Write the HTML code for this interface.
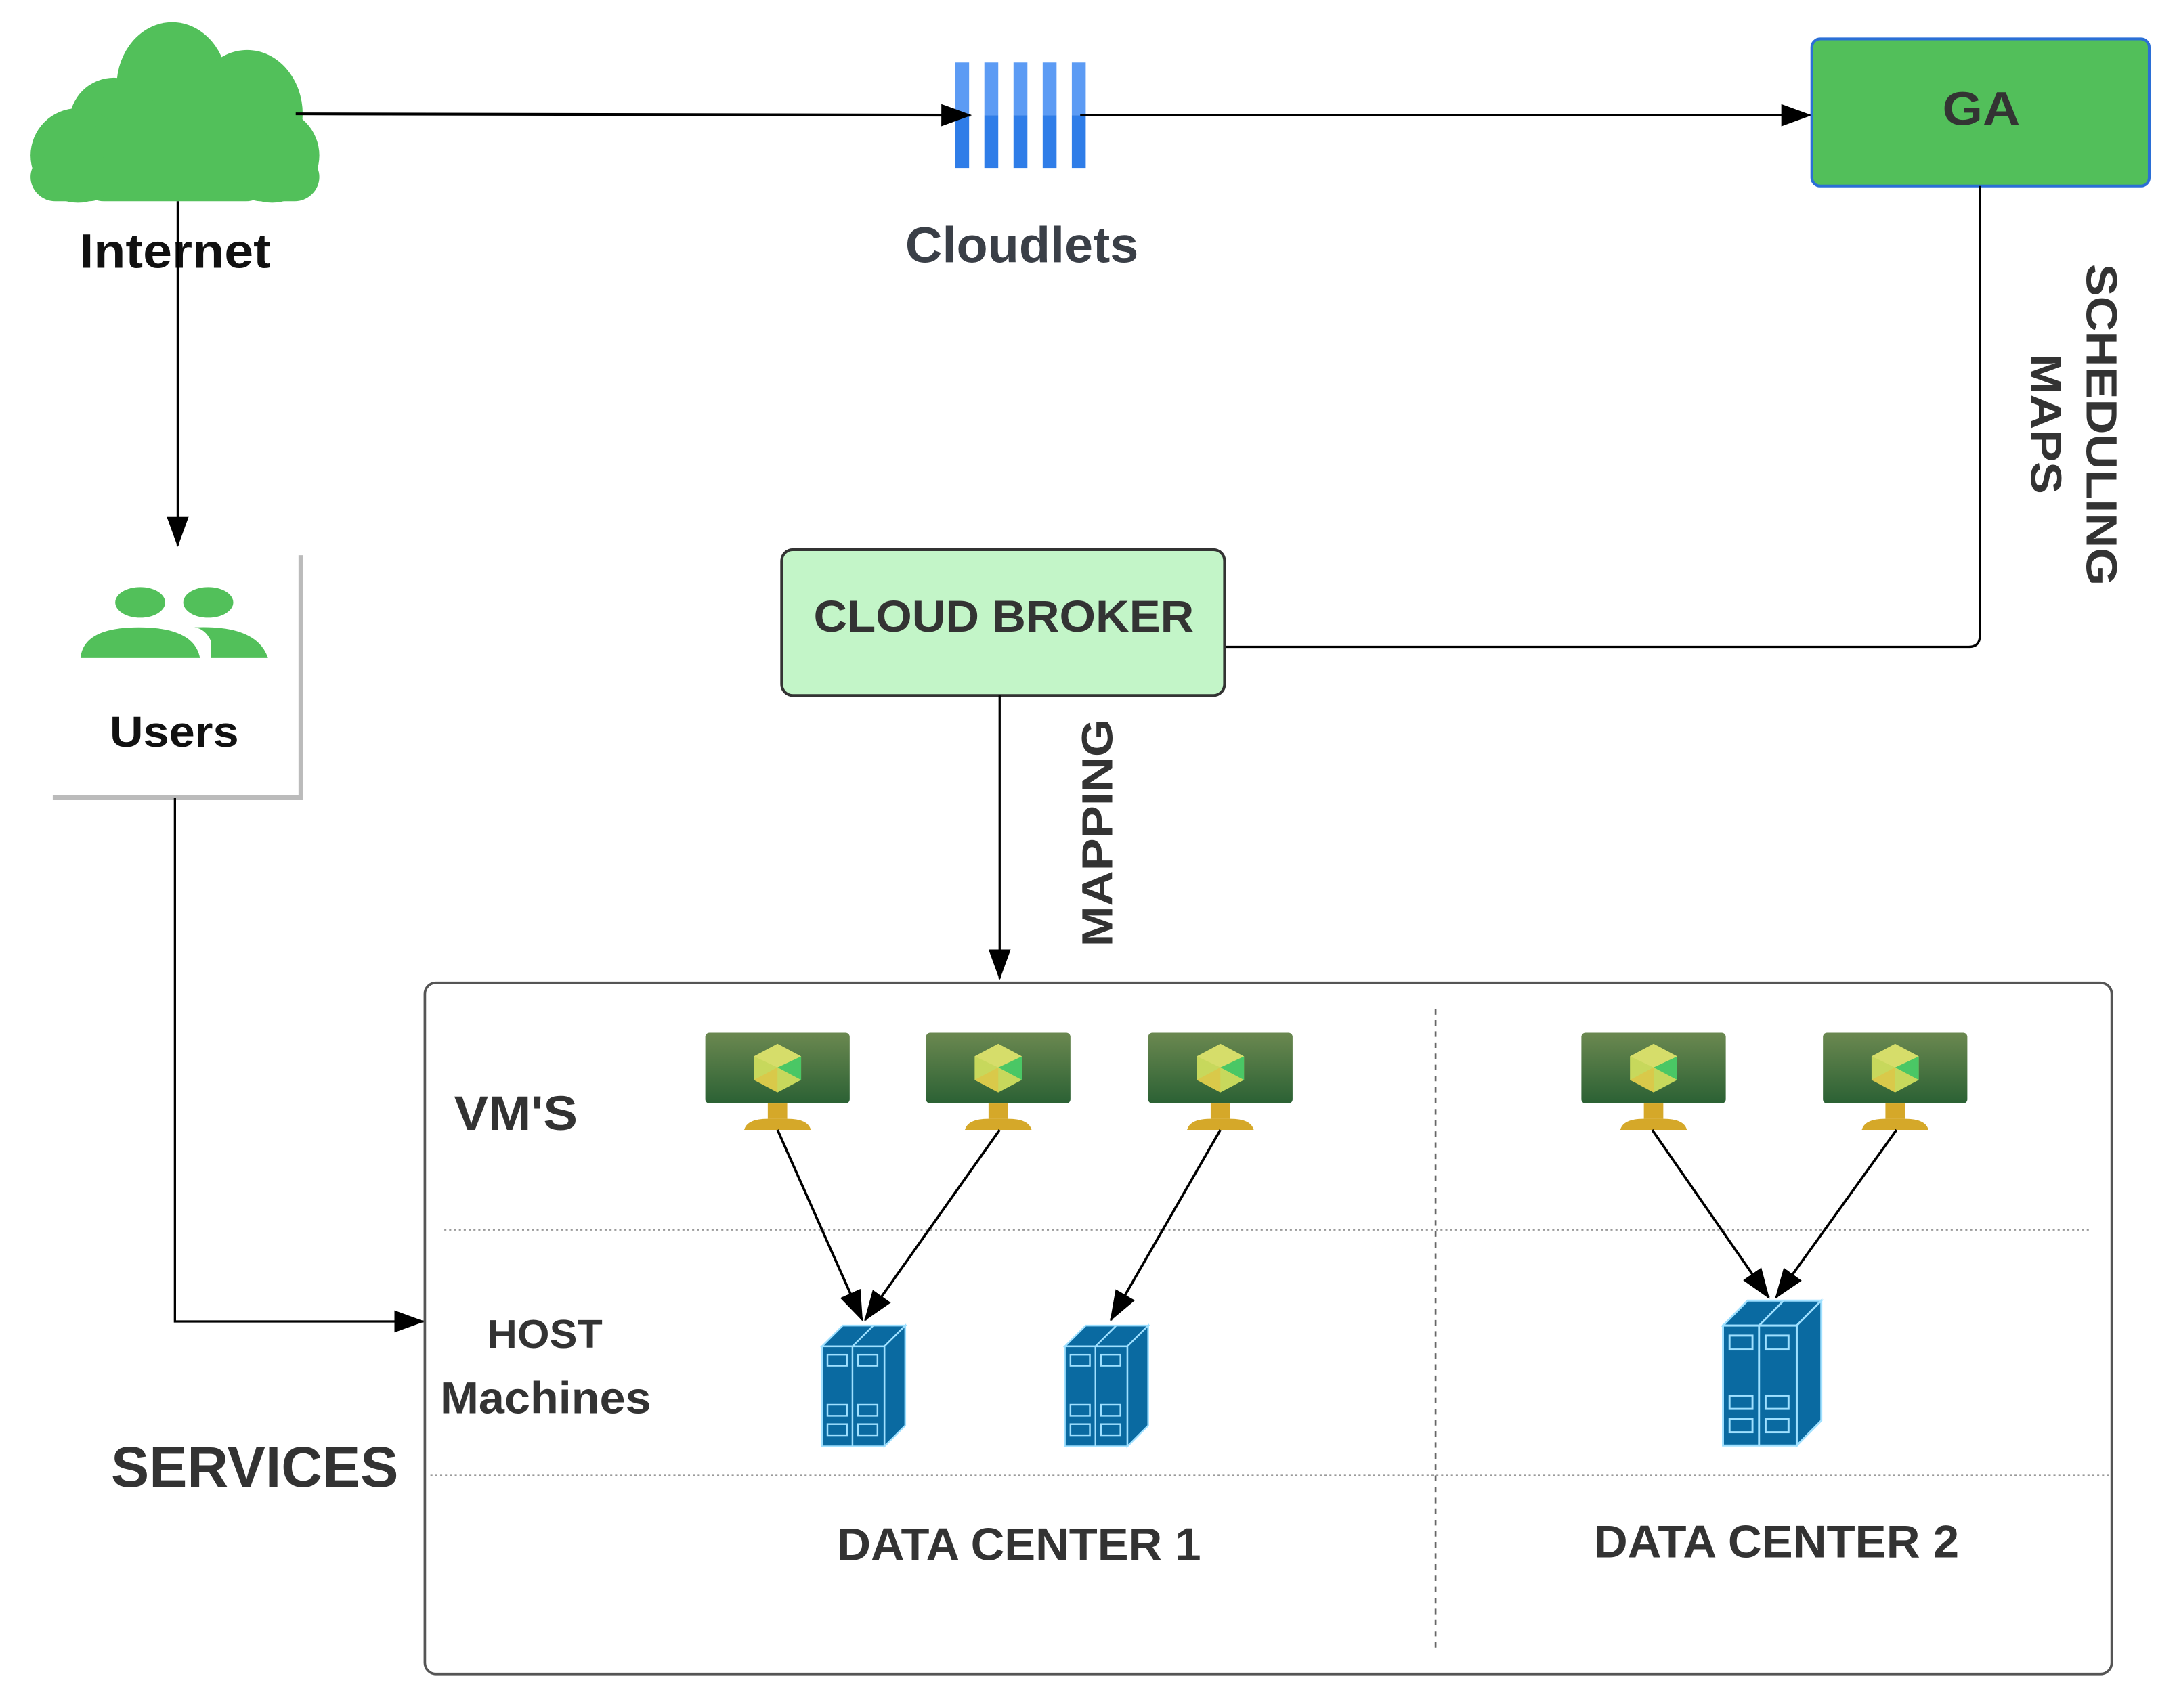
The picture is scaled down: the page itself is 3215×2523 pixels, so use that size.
<!DOCTYPE html>
<html><head><meta charset="utf-8"><style>
html,body{margin:0;padding:0;background:#fff;}
svg{display:block;}
text{font-family:"Liberation Sans",Arial,sans-serif;font-weight:bold;}
</style></head><body>
<svg width="3215" height="2523" viewBox="0 0 1568 1230.5" preserveAspectRatio="none" xmlns="http://www.w3.org/2000/svg">
<defs>
<marker id="ah2" markerWidth="22" markerHeight="16" refX="21" refY="8" orient="auto" markerUnits="userSpaceOnUse">
<path d="M0,0 L22,8 L0,16 Z" fill="#000"/></marker>
<linearGradient id="scr" x1="0" y1="0" x2="0" y2="1"><stop offset="0" stop-color="#6b8850"/><stop offset="1" stop-color="#2b6134"/></linearGradient>
<g id="vm">
<rect x="0" y="0" width="104" height="51" rx="3" fill="url(#scr)"/>
<polygon points="52,8 69,17 69,34 52,43 35,34 35,17" fill="#c7d85c"/>
<polygon points="52,25 69,17 69,34" fill="#4ac765"/>
<polygon points="52,25 52,43 35,34" fill="#d9c94a"/>
<polygon points="52,8 69,17 52,25 35,17" fill="#d6dd6a"/>
<rect x="45" y="51" width="14" height="11" fill="#d5a829"/>
<path d="M28,70 Q30,62 45,62 L59,62 Q74,62 76,70 Z" fill="#d5a829"/>
</g>
<g id="srv" stroke="#9fe0ff" stroke-width="1.2" fill="#0a6aa1">
<polygon points="0,15 15,0 60,0 45,15"/>
<polygon points="45,15 60,0 60,72 45,87"/>
<rect x="0" y="15" width="45" height="72"/>
<line x1="22" y1="15" x2="22" y2="87"/><line x1="22" y1="15" x2="37" y2="0"/>
<rect x="4" y="21" width="14" height="8" fill="none"/><rect x="26" y="21" width="14" height="8" fill="none"/>
<rect x="4" y="57" width="14" height="8" fill="none"/><rect x="26" y="57" width="14" height="8" fill="none"/>
<rect x="4" y="71" width="14" height="8" fill="none"/><rect x="26" y="71" width="14" height="8" fill="none"/>
</g>
</defs>

<!-- cloud -->
<g fill="#52c05a">
<ellipse cx="124" cy="62" rx="40" ry="46"/><ellipse cx="178" cy="82" rx="40" ry="46"/><circle cx="82" cy="88" r="32"/><circle cx="56" cy="112" r="34"/><circle cx="196" cy="112" r="34"/>
<rect x="55" y="90" width="142" height="55" rx="20"/>
<rect x="22" y="110" width="60" height="35" rx="18"/><rect x="170" y="110" width="60" height="35" rx="18"/>
</g>
<text x="57" y="193" font-size="35" fill="#111" textLength="138" lengthAdjust="spacingAndGlyphs">Internet</text>

<!-- cloudlets -->
<g>
<rect x="688" y="45" width="10" height="38" fill="#5c9bf4"/><rect x="688" y="83" width="10" height="38" fill="#2f7de8"/>
<rect x="709" y="45" width="10" height="38" fill="#5c9bf4"/><rect x="709" y="83" width="10" height="38" fill="#2f7de8"/>
<rect x="730" y="45" width="10" height="38" fill="#5c9bf4"/><rect x="730" y="83" width="10" height="38" fill="#2f7de8"/>
<rect x="751" y="45" width="10" height="38" fill="#5c9bf4"/><rect x="751" y="83" width="10" height="38" fill="#2f7de8"/>
<rect x="772" y="45" width="10" height="38" fill="#5c9bf4"/><rect x="772" y="83" width="10" height="38" fill="#2f7de8"/>
</g>
<text x="652" y="189" font-size="36" fill="#3a3f47" textLength="168" lengthAdjust="spacingAndGlyphs">Cloudlets</text>

<line x1="213" y1="82" x2="699" y2="83" stroke="#000" stroke-width="2" marker-end="url(#ah2)"/>
<line x1="778" y1="83" x2="1304" y2="83" stroke="#000" stroke-width="1.6" marker-end="url(#ah2)"/>

<!-- GA -->
<rect x="1305" y="28" width="243" height="106" rx="6" fill="#52bf5a" stroke="#2b6fd6" stroke-width="2"/>
<text x="1399" y="90" font-size="34" fill="#333" textLength="56" lengthAdjust="spacingAndGlyphs">GA</text>
<path d="M1426,134 L1426,458 Q1426,466 1418,466 L882,466" fill="none" stroke="#000" stroke-width="1.6"/>
<text transform="translate(1503,190) rotate(90)" font-size="31" fill="#333" textLength="232" lengthAdjust="spacingAndGlyphs">SCHEDULING</text>
<text transform="translate(1463,255) rotate(90)" font-size="31" fill="#333" textLength="101" lengthAdjust="spacingAndGlyphs">MAPS</text>

<line x1="128" y1="145" x2="128" y2="393" stroke="#000" stroke-width="1.6" marker-end="url(#ah2)"/>

<!-- users -->
<rect x="38" y="400" width="180" height="176" fill="#bbb"/>
<rect x="35" y="397" width="180" height="176" fill="#fff"/>
<g fill="#52c05a">
<ellipse cx="101" cy="434" rx="18" ry="11"/><ellipse cx="150" cy="434" rx="18" ry="11"/>
<path d="M58,474 Q60,452 100,452 Q140,452 144,474 Z"/>
<path d="M152,474 L152,462 Q148,453 140,452 Q185,450 193,474 Z"/>
</g>
<text x="79" y="538" font-size="31" fill="#111" textLength="93" lengthAdjust="spacingAndGlyphs">Users</text>
<path d="M126,575 L126,952 L305,952" fill="none" stroke="#000" stroke-width="1.6" marker-end="url(#ah2)"/>

<!-- cloud broker -->
<rect x="563" y="396" width="319" height="105" rx="8" fill="#c3f5c8" stroke="#333" stroke-width="2"/>
<text x="586" y="455" font-size="32" fill="#333" textLength="274" lengthAdjust="spacingAndGlyphs">CLOUD BROKER</text>
<line x1="720" y1="501" x2="720" y2="705" stroke="#000" stroke-width="1.6" marker-end="url(#ah2)"/>
<text transform="translate(801,682) rotate(-90)" font-size="31" fill="#333" textLength="164" lengthAdjust="spacingAndGlyphs">MAPPING</text>

<!-- services -->
<rect x="306" y="708" width="1215" height="498" rx="8" fill="none" stroke="#555" stroke-width="1.8"/>
<line x1="1034" y1="727" x2="1034" y2="1190" stroke="#666" stroke-width="1.3" stroke-dasharray="4,4"/>
<line x1="320" y1="886" x2="1505" y2="886" stroke="#999" stroke-width="1.2" stroke-dasharray="1.5,2"/>
<line x1="310" y1="1063" x2="1520" y2="1063" stroke="#999" stroke-width="1.2" stroke-dasharray="1.5,2"/>
<text x="327" y="814" font-size="35" fill="#333" textLength="89" lengthAdjust="spacingAndGlyphs">VM'S</text>
<text x="351" y="971" font-size="29" fill="#333" textLength="83" lengthAdjust="spacingAndGlyphs">HOST</text>
<text x="317" y="1018" font-size="32" fill="#333" textLength="152" lengthAdjust="spacingAndGlyphs">Machines</text>
<text x="80" y="1071" font-size="41" fill="#333" textLength="207" lengthAdjust="spacingAndGlyphs">SERVICES</text>
<text x="603" y="1124" font-size="33" fill="#333" textLength="262" lengthAdjust="spacingAndGlyphs">DATA CENTER 1</text>
<text x="1148" y="1122" font-size="33" fill="#333" textLength="263" lengthAdjust="spacingAndGlyphs">DATA CENTER 2</text>

<use href="#vm" x="508" y="744"/><use href="#vm" x="667" y="744"/><use href="#vm" x="827" y="744"/>
<use href="#vm" x="1139" y="744"/><use href="#vm" x="1313" y="744"/>
<use href="#srv" x="592" y="955"/><use href="#srv" x="767" y="955"/>
<use href="#srv" transform="translate(1241,937) scale(1.18,1.2)"/>

<g stroke="#000" stroke-width="1.8">
<line x1="560" y1="814" x2="621" y2="951" marker-end="url(#ah2)"/>
<line x1="720" y1="814" x2="623" y2="951" marker-end="url(#ah2)"/>
<line x1="879" y1="814" x2="800" y2="951" marker-end="url(#ah2)"/>
<line x1="1190" y1="814" x2="1274" y2="935" marker-end="url(#ah2)"/>
<line x1="1366" y1="814" x2="1279" y2="935" marker-end="url(#ah2)"/>
</g>
</svg>
</body></html>
